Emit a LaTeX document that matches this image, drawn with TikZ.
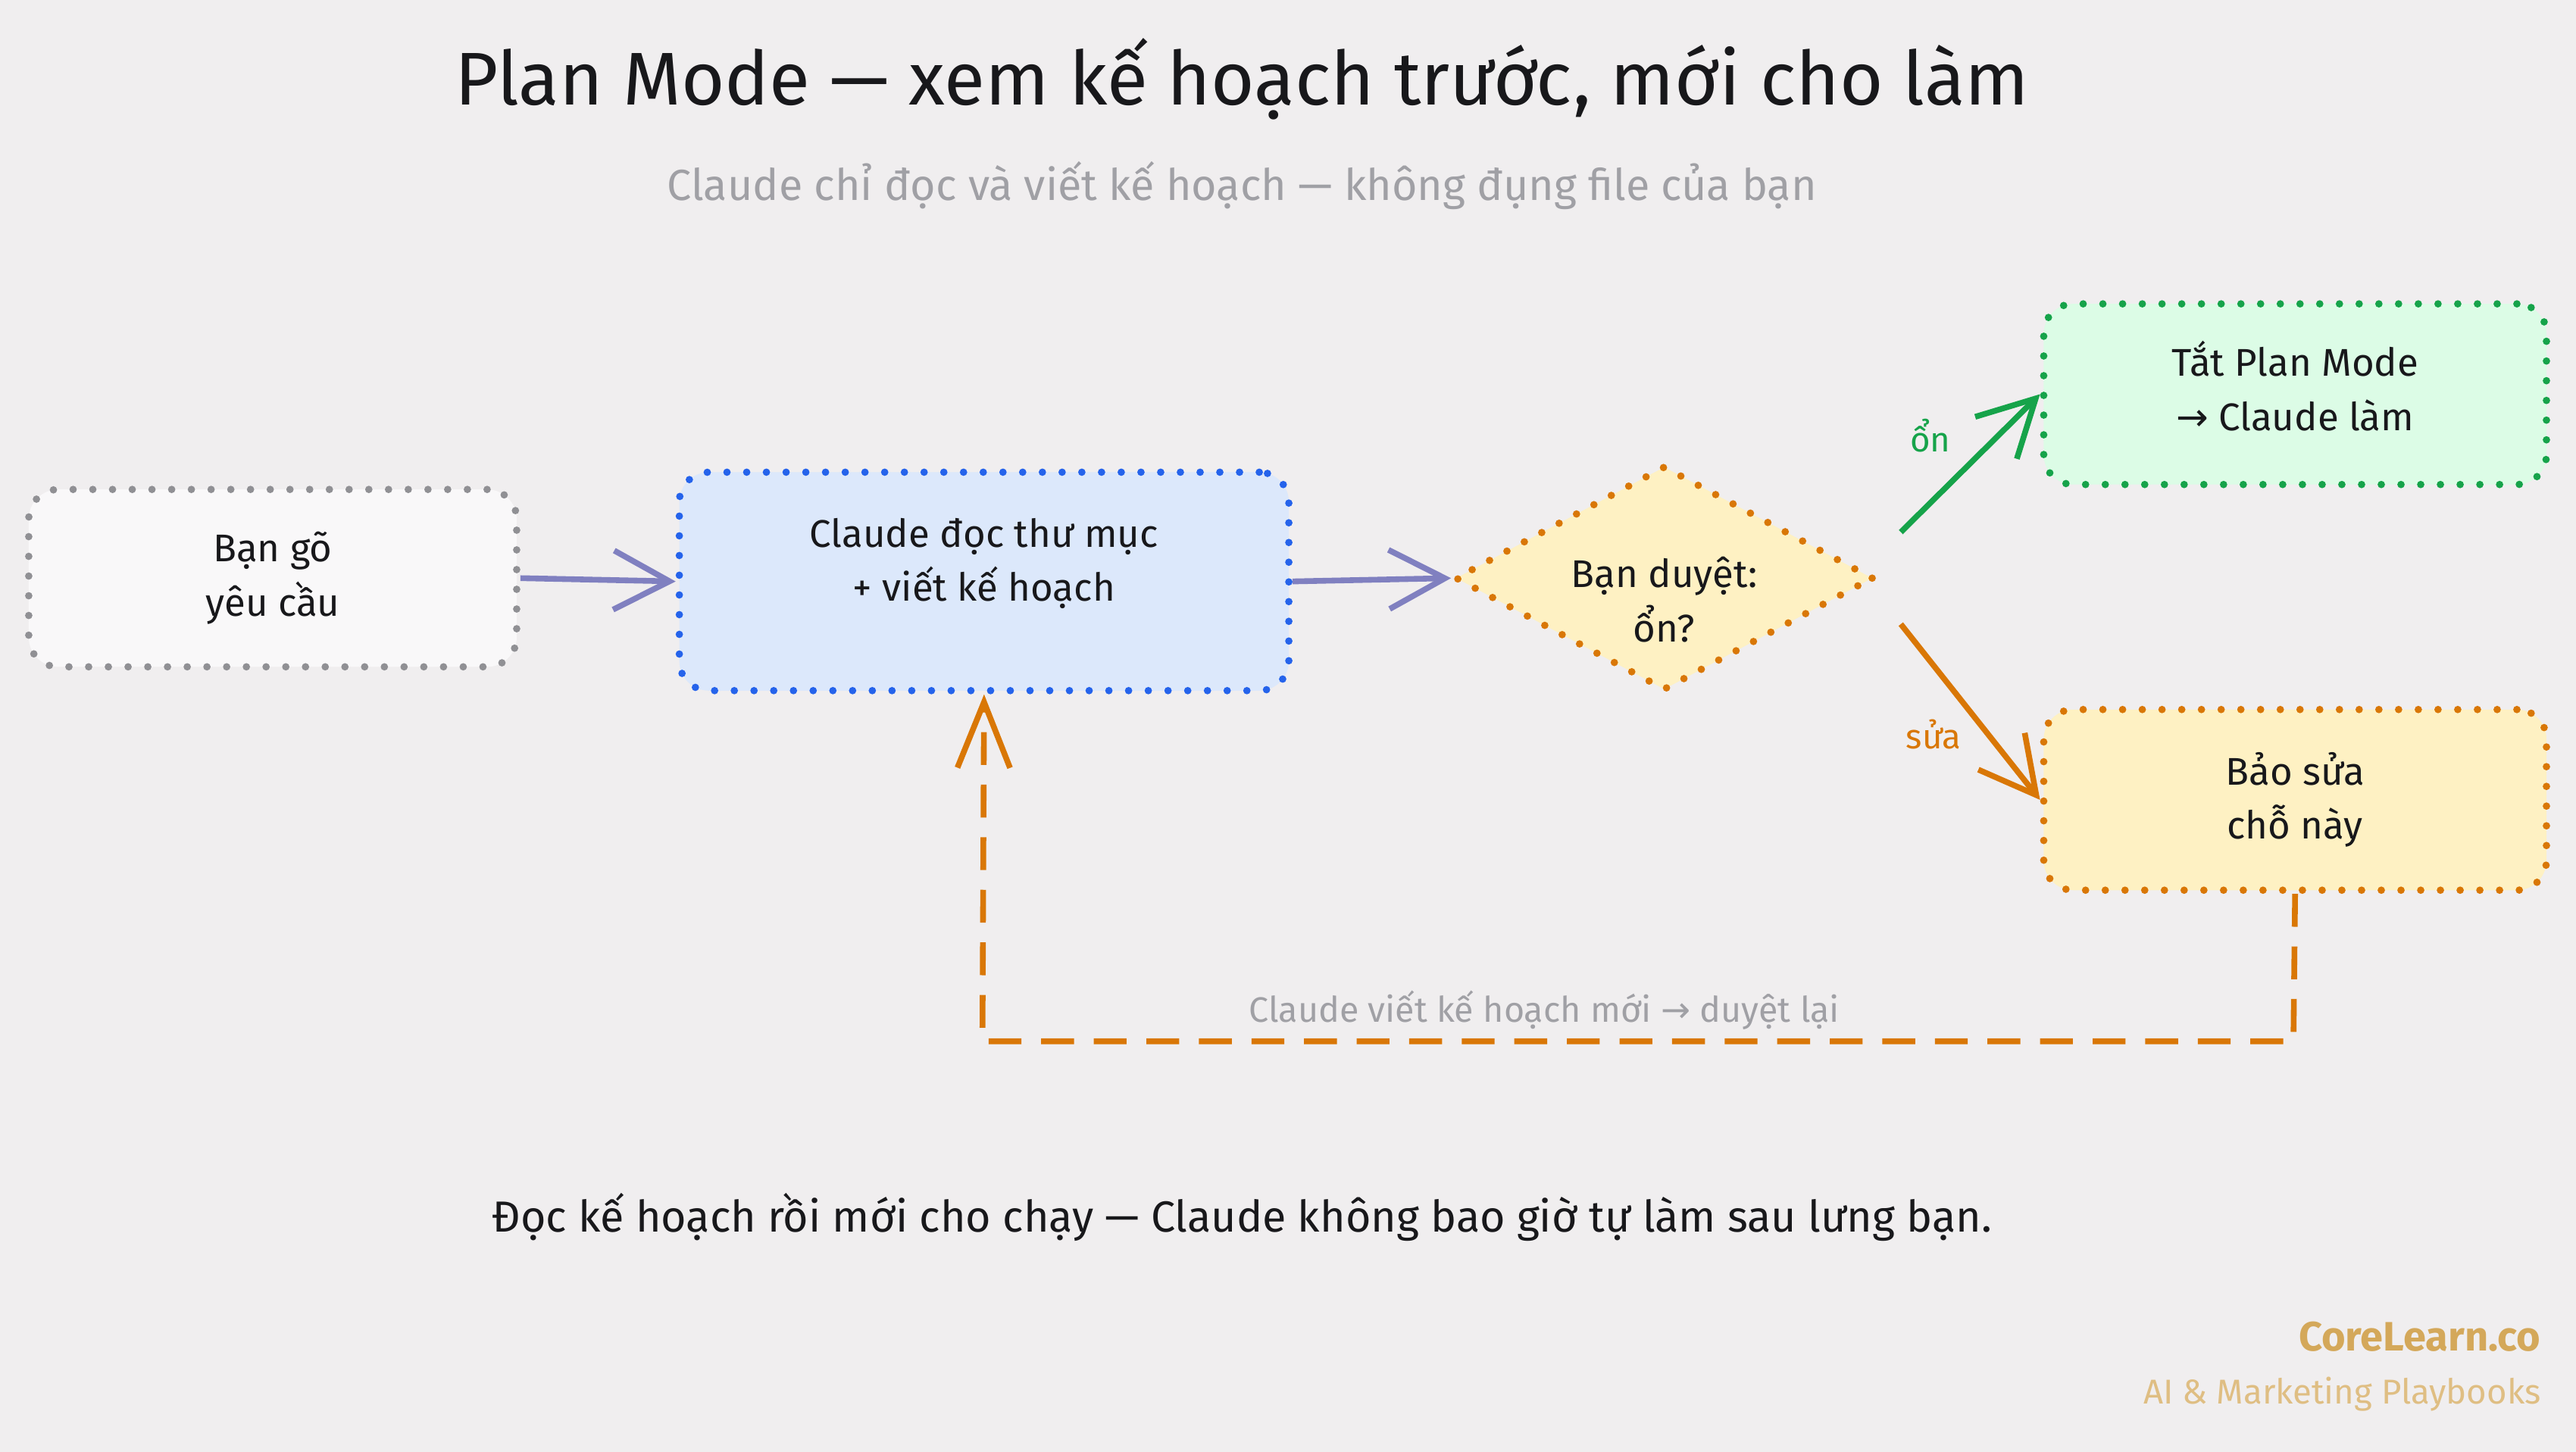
\documentclass[tikz,border=0pt]{standalone}
\usepackage{fontspec}
\setmainfont{Fira Sans}
\newfontfamily\dejavu{DejaVu Sans}
\usetikzlibrary{arrows.meta,shapes.geometric}
\definecolor{bg}{RGB}{240,238,239}
\definecolor{ink}{RGB}{24,24,27}
\definecolor{sub}{RGB}{160,160,165}
\definecolor{purp}{RGB}{128,128,192}
\definecolor{blu}{RGB}{37,99,235}
\definecolor{grn}{RGB}{22,163,74}
\definecolor{org}{RGB}{217,119,6}
\definecolor{gold}{RGB}{212,168,90}
\newcommand{\arr}{{\dejavu →}}
\tikzset{
 dotb/.style={line width=4.5pt,dash pattern=on 0pt off 12pt,line cap=round,rounded corners=18pt,align=center,font=\fontsize{23.5}{33}\selectfont,text=ink},
 txt/.style={align=center,font=\fontsize{23.5}{33}\selectfont,text=ink},
 conn/.style={line width=3.5pt,-{Straight Barb[length=34pt,width=36pt,line width=3.5pt]}},
}
\begin{document}
\begin{tikzpicture}[x=1pt,y=-1pt]
\fill[bg] (0,0) rectangle (1568,884);
\useasboundingbox (0,0) rectangle (1568,884);
\node[text=ink,font=\fontsize{45.5}{50}\selectfont] (title) at (756,48) {Plan Mode — xem kế hoạch trước, mới cho làm};
\node[text=sub,font=\fontsize{26.5}{30}\selectfont] (subt) at (756,113) {Claude chỉ đọc và viết kế hoạch — không đụng file của bạn};
\node[dotb,draw=sub!90!black,fill=white!60!bg,minimum width=297pt,minimum height=108pt] (b1) at (166,352) {Bạn gõ\\yêu cầu};
\node[dotb,draw=blu,fill={rgb,255:red,220;green,232;blue,251},minimum width=371pt,minimum height=133pt] (b2) at (599,354) {};
\node[txt] (b2t) at (599,343) {Claude đọc thư mục\\+ viết kế hoạch};
\node[diamond,aspect=1.85,line width=4.5pt,dash pattern=on 0pt off 12pt,line cap=round,draw=org,fill={rgb,255:red,254;green,241;blue,195},minimum width=255pt,minimum height=137pt,inner sep=0pt] (d) at (1013,352) {};
\node[txt] (dt) at (1013,365) {Bạn duyệt:\\ổn?};
\node[dotb,draw=grn,fill={rgb,255:red,220;green,252;blue,230},minimum width=306pt,minimum height=110pt] (g) at (1397,240) {};
\node[txt] (gt) at (1397,235) {Tắt Plan Mode\\\arr\ Claude làm};
\node[dotb,draw=org,fill={rgb,255:red,254;green,241;blue,195},minimum width=306pt,minimum height=110pt] (y) at (1397,487) {Bảo sửa\\chỗ này};
\draw[conn,purp] (b1.east) -- (b2.west);
\draw[conn,purp] (b2.east) -- (d.west);
\coordinate (o1) at (1157,324);
\coordinate (o2) at (1157,380);
\draw[conn,grn] (o1) -- (g.west);
\draw[conn,org] (o2) -- (y.west);
\node[text=grn,font=\fontsize{21}{24}\selectfont] (l1) at (1175,265) {ổn};
\node[text=org,font=\fontsize{21}{24}\selectfont] (l2) at (1177,447) {sửa};
\coordinate (c1) at (1396,634);
\coordinate (c2) at (598,634);
\draw[org,line width=3.5pt,dash pattern=on 20pt off 12pt,-{Straight Barb[length=40pt,width=32pt,line width=3.5pt]}] (y.south) -- (c1) -- (c2) -- (b2.south);
\node[text=sub,font=\fontsize{21.5}{24}\selectfont] (ll) at (940,615) {Claude viết kế hoạch mới \arr\ duyệt lại};
\node[text=ink,font=\fontsize{26.5}{30}\selectfont] (foot) at (756,741) {Đọc kế hoạch rồi mới cho chạy — Claude không bao giờ tự làm sau lưng bạn.};
\node[anchor=east,text=gold,font=\fontsize{25}{28}\selectfont\bfseries] (cl) at (1550,814) {CoreLearn.co};
\node[anchor=east,text=gold!75!white,font=\fontsize{21}{24}\selectfont] (pb) at (1550,849) {AI \& Marketing Playbooks};
\end{tikzpicture}
\end{document}
